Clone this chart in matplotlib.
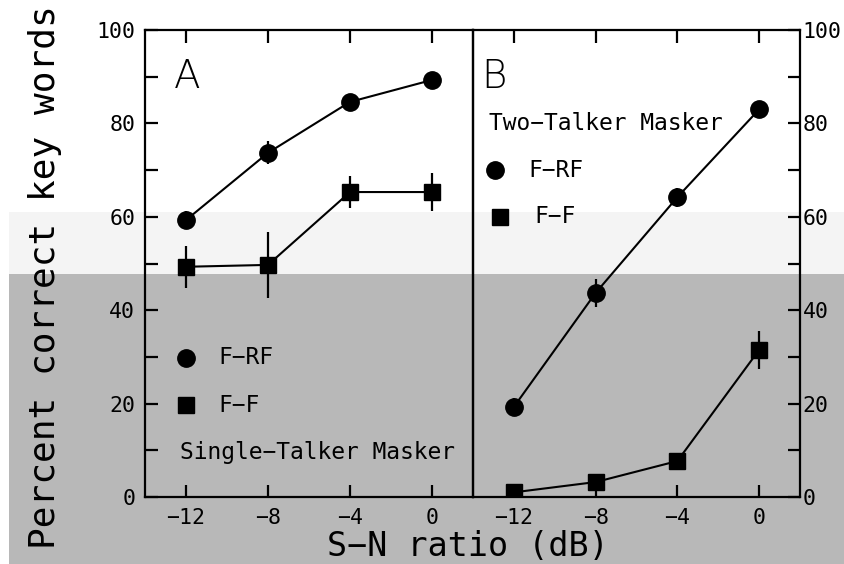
import matplotlib
matplotlib.use("Agg")
import matplotlib.pyplot as plt
from matplotlib.patches import Rectangle
from matplotlib.ticker import MultipleLocator

snr = [-12, -8, -4, 0]

# Panel A: single-talker masker
a_frf = [59.3, 73.7, 84.6, 89.3]
a_frf_err = [2.0, 2.5, 1.5, 1.0]
a_ff = [49.3, 49.7, 65.3, 65.3]
a_ff_err = [4.5, 7.0, 3.5, 4.0]

# Panel B: two-talker masker
b_frf = [19.3, 43.7, 64.2, 83.0]
b_frf_err = [2.0, 3.0, 2.0, 1.0]
b_ff = [1.0, 3.2, 7.7, 31.5]
b_ff_err = [0.5, 1.0, 1.0, 4.0]

xticks = [-12, -8, -4, 0]
yticks = [0, 20, 40, 60, 80, 100]

MONO = "DejaVu Sans Mono"
W, H = 844, 564
fig = plt.figure(figsize=(W / 100, H / 100), dpi=100)
fig.patch.set_facecolor("white")

# scan artefacts: light band and gray band
fig.patches.append(Rectangle((9 / W, 0), 1, 1 - 274 / H, transform=fig.transFigure,
                             facecolor="#b8b8b8", edgecolor="none", zorder=-5))
fig.patches.append(Rectangle((9 / W, 1 - 274 / H), 1, (274 - 212) / H, transform=fig.transFigure,
                             facecolor="#f4f4f4", edgecolor="none", zorder=-5))

left, mid, right = 145 / W, 473 / W, 800 / W
bottom, top = 1 - 497 / H, 1 - 30 / H
axA = fig.add_axes([left, bottom, mid - left, top - bottom], zorder=2)
axB = fig.add_axes([mid, bottom, right - mid, top - bottom], zorder=2)

for ax in (axA, axB):
    ax.set_facecolor("none")
    ax.set_xlim(-14, 2)
    ax.set_ylim(0, 100)
    for s in ax.spines.values():
        s.set_linewidth(1.6)
    ax.set_xticks(xticks)
    ax.set_xticklabels([str(t).replace("-", "\u2212") for t in xticks], family=MONO, fontsize=15.5)
    ax.yaxis.set_minor_locator(MultipleLocator(10))
    ax.tick_params(axis="x", which="both", direction="in", top=True, bottom=True,
                   length=9, width=1.6, pad=8)

axA.set_yticks(yticks)
axA.set_yticklabels([str(t) for t in yticks], family=MONO, fontsize=15.5)
axA.tick_params(axis="y", which="both", direction="in", length=9, width=1.6, pad=7,
                left=True, right=False, labelleft=True, labelright=False)
axB.set_yticks(yticks)
axB.set_yticklabels([str(t) for t in yticks], family=MONO, fontsize=15.5)
axB.tick_params(axis="y", which="both", direction="in", length=9, width=1.6, pad=2,
                left=False, right=True, labelleft=False, labelright=True)

lw = 1.5
common = dict(color="black", linewidth=lw, elinewidth=1.6, capsize=0)
axA.errorbar(snr, a_frf, yerr=a_frf_err, marker="o", markersize=12.5, **common)
axA.errorbar(snr, a_ff, yerr=a_ff_err, marker="s", markersize=11.5, **common)
axB.errorbar(snr, b_frf, yerr=b_frf_err, marker="o", markersize=12.5, **common)
axB.errorbar(snr, b_ff, yerr=b_ff_err, marker="s", markersize=11.5, **common)

# panel letters
axA.text(-12.6, 90, "A", fontsize=28, fontweight="light", family="DejaVu Sans", va="center", ha="left")
axB.text(-13.6, 90, "B", fontsize=28, fontweight="light", family="DejaVu Sans", va="center", ha="left")

TS = 16.5
# legend A
axA.plot([-12], [29.8], marker="o", markersize=12.5, color="black", linestyle="none")
axA.text(-10.4, 29.8, "F\u2212RF", family=MONO, fontsize=TS, va="center")
axA.plot([-12], [19.7], marker="s", markersize=11.5, color="black", linestyle="none")
axA.text(-10.4, 19.7, "F\u2212F", family=MONO, fontsize=TS, va="center")
axA.text(-12.3, 9.6, "Single\u2212Talker Masker", family=MONO, fontsize=TS, va="center")

# legend B
axB.text(-13.2, 80, "Two\u2212Talker Masker", family=MONO, fontsize=TS, va="center")
axB.plot([-12.9], [70], marker="o", markersize=12.5, color="black", linestyle="none")
axB.text(-11.3, 70, "F\u2212RF", family=MONO, fontsize=TS, va="center")
axB.plot([-12.7], [60], marker="s", markersize=11.5, color="black", linestyle="none")
axB.text(-11.0, 60, "F\u2212F", family=MONO, fontsize=TS, va="center")

fig.text(45 / W, 1 - 277 / H, "Percent correct key words", family=MONO, fontsize=26,
         rotation=90, va="center", ha="center")
fig.text(468 / W, 1 - 546 / H, "S\u2212N ratio (dB)", family=MONO, fontsize=24,
         va="center", ha="center")

fig.savefig("out.png", dpi=100)
